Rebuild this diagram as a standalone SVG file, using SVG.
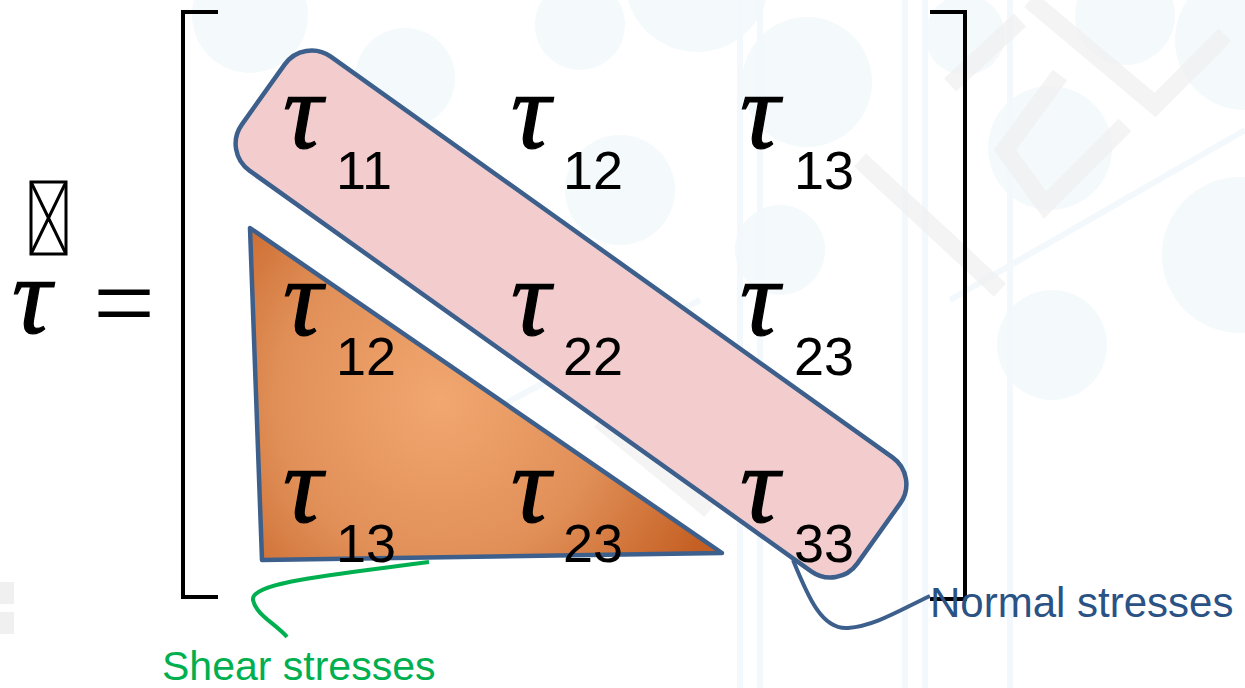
<svg xmlns="http://www.w3.org/2000/svg" width="1245" height="688" viewBox="0 0 1245 688">
  <style>
    .tau { font-family: "Liberation Serif", "DejaVu Serif", serif; font-style: italic; font-size: 110px; fill: #000; stroke: #000; stroke-width: 1.2; }
    .sub { font-family: "Liberation Sans", Arial, sans-serif; font-size: 54px; fill: #000; }
    .br { fill: none; stroke: #000; stroke-width: 4; }
    .edge { stroke: #3D5F8C; stroke-width: 4.5; stroke-linejoin: round; }
    .bgc { fill: #EDF5FA; opacity: 0.6; }
    .bgl { fill: none; stroke: #F0F0F0; stroke-width: 18; opacity: 0.7; }
    .bgt { fill: none; stroke: #F2F8FB; stroke-width: 6; }
  </style>
  <defs>
    <radialGradient id="orange" cx="440" cy="400" r="300" gradientUnits="userSpaceOnUse">
      <stop offset="0" stop-color="#F2A770"/>
      <stop offset="0.55" stop-color="#E08F57"/>
      <stop offset="1" stop-color="#C45E22"/>
    </radialGradient>
  </defs>
  <rect width="1245" height="688" fill="#FFFFFF"/>
  <g id="background">
    <circle class="bgc" cx="250" cy="15" r="58"/>
    <circle class="bgc" cx="405" cy="78" r="50"/>
    <circle class="bgc" cx="580" cy="25" r="45"/>
    <circle class="bgc" cx="697" cy="-20" r="72"/>
    <circle class="bgc" cx="807" cy="82" r="65"/>
    <circle class="bgc" cx="620" cy="190" r="55"/>
    <circle class="bgc" cx="780" cy="250" r="45"/>
    <circle class="bgc" cx="965" cy="35" r="40"/>
    <circle class="bgc" cx="1125" cy="15" r="50"/>
    <circle class="bgc" cx="1245" cy="40" r="70"/>
    <circle class="bgc" cx="1050" cy="148" r="62"/>
    <circle class="bgc" cx="1240" cy="255" r="78"/>
    <circle class="bgc" cx="1052" cy="345" r="55"/>
    <path class="bgt" d="M740 0 V688 M760 0 V688 M905 0 V688 M925 0 V688 M1010 0 V688"/>
    <path class="bgt" d="M950 300 L1245 130 M380 470 L700 300"/>
    <path class="bgl" d="M1030 0 L1155 105 L1225 35"/>
    <path class="bgl" d="M1060 75 L1005 150 L1045 205 L1125 125"/>
    <path class="bgl" d="M860 160 L1000 290 M1020 20 L950 85"/>
    <path class="bgl" d="M600 420 L710 510"/>
    <rect x="0" y="582" width="14" height="22" fill="#F0F0F0"/>
    <rect x="0" y="612" width="14" height="22" fill="#F0F0F0"/>
  </g>

  <g id="lhs">
    <rect x="31" y="182" width="35" height="72" fill="none" stroke="#000" stroke-width="3"/>
    <path d="M31 182 L66 254 M66 182 L31 254" stroke="#000" stroke-width="3"/>
    <text class="tau" x="12" y="333">τ</text>
    <text x="93" y="340" font-family="Liberation Serif, serif" font-size="110" fill="#000">=</text>
  </g>

  <g id="brackets">
    <path class="br" d="M218 12 H183 V597 H218"/>
    <path class="br" d="M930 12 H965 V599 H930"/>
  </g>

  <g id="normal-group">
    <rect class="edge" x="193" y="244" width="756" height="140" rx="33" fill="#F3CDCD" transform="rotate(35.5 571 314)"/>
  </g>

  <g id="shear-group">
    <path class="edge" d="M250 228 L262 560 L722 553 Z" fill="url(#orange)"/>
  </g>

  <g id="entries">
    <text class="tau" x="283" y="148">τ</text><text class="sub" x="336" y="189">11</text>
    <text class="tau" x="511" y="148">τ</text><text class="sub" x="563" y="189">12</text>
    <text class="tau" x="740" y="148">τ</text><text class="sub" x="794" y="189">13</text>
    <text class="tau" x="283" y="335">τ</text><text class="sub" x="336" y="375">12</text>
    <text class="tau" x="511" y="335">τ</text><text class="sub" x="563" y="375">22</text>
    <text class="tau" x="740" y="335">τ</text><text class="sub" x="794" y="375">23</text>
    <text class="tau" x="283" y="522">τ</text><text class="sub" x="336" y="562">13</text>
    <text class="tau" x="511" y="522">τ</text><text class="sub" x="563" y="562">23</text>
    <text class="tau" x="740" y="522">τ</text><text class="sub" x="794" y="562">33</text>
  </g>

  <g id="connectors">
    <path d="M429 562 C 340 574 250 582 253 600 C 256 615 276 624 287 637" fill="none" stroke="#00B050" stroke-width="4"/>
    <path d="M793 560 C 808 597 822 630 848 628 C 875 626 900 610 930 596" fill="none" stroke="#3D5F8C" stroke-width="4"/>
  </g>

  <g id="labels">
    <text x="162" y="680" font-family="Liberation Sans, Arial, sans-serif" font-size="41" fill="#00B050">Shear stresses</text>
    <text x="930" y="617" font-family="Liberation Sans, Arial, sans-serif" font-size="42" fill="#2A5285">Normal stresses</text>
  </g>
</svg>
